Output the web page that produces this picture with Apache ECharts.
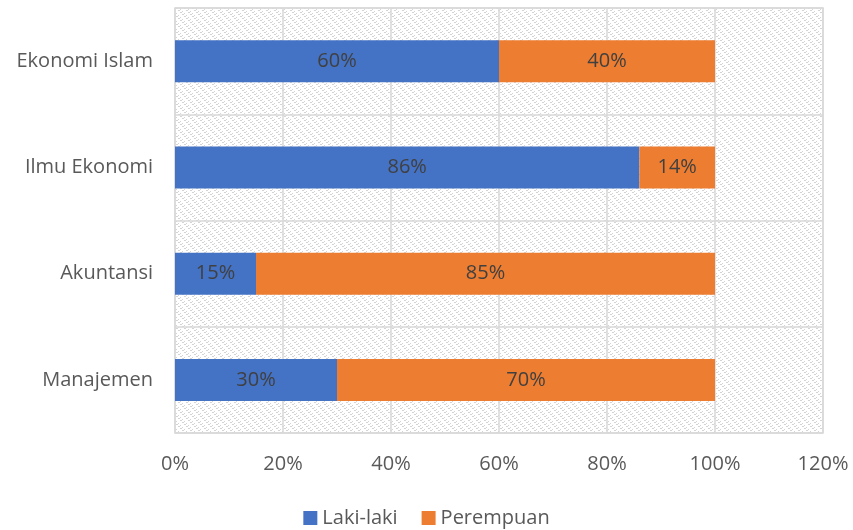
<!DOCTYPE html>
<html>
<head>
<meta charset="utf-8">
<script src="https://cdn.jsdelivr.net/npm/echarts@6/dist/echarts.min.js"></script>
<style>
  html, body { margin: 0; padding: 0; background: #fff; }
  #chart { width: 853px; height: 530px; }
</style>
</head>
<body>
<div id="chart"></div>
<script>
// Study programmes, listed bottom to top as the category axis draws them
const categories = ['Manajemen', 'Akuntansi', 'Ilmu Ekonomi', 'Ekonomi Islam'];
const lakiLaki = [30, 15, 86, 60];
const perempuan = [70, 85, 14, 40];
const xTicks = [0, 20, 40, 60, 80, 100, 120];

// Light diagonal dotted texture for the plot background
function makeTexture() {
  const c = document.createElement('canvas');
  c.width = 8; c.height = 8;
  const ctx = c.getContext('2d');
  ctx.fillStyle = '#ffffff';
  ctx.fillRect(0, 0, 8, 8);
  ctx.fillStyle = '#d4d4d4';
  for (let i = 0; i < 8; i += 2) {
    ctx.fillRect(i, i, 2, 1);
    ctx.fillRect((i + 4) % 8, i + 1, 1, 1);
  }
  return c;
}

const font = '"Open Sans", sans-serif';
const fs = 20;
const chart = echarts.init(document.getElementById('chart'));
chart.setOption({
  animation: false,
  textStyle: { fontFamily: font },
  grid: {
    left: 175, right: 30, top: 8, bottom: 97,
    show: true,
    borderColor: '#d9d9d9', borderWidth: 1.5,
    backgroundColor: { image: makeTexture(), repeat: 'repeat' }
  },
  xAxis: {
    type: 'value',
    min: xTicks[0], max: xTicks[xTicks.length - 1], interval: 20,
    axisLine: { show: false }, axisTick: { show: false },
    axisLabel: { formatter: '{value}%', color: '#595959', fontSize: fs, margin: 21 },
    splitLine: { lineStyle: { color: '#d9d9d9', width: 1.5 } }
  },
  yAxis: {
    type: 'category',
    data: categories,
    axisLine: { show: false }, axisTick: { show: false },
    axisLabel: { color: '#595959', fontSize: fs, margin: 22 },
    splitLine: { show: true, lineStyle: { color: '#d9d9d9', width: 1.5 } }
  },
  legend: {
    bottom: -3, left: 'center',
    itemWidth: 14, itemHeight: 14, itemGap: 24,
    icon: 'rect',
    textStyle: { color: '#595959', fontSize: fs },
    data: ['Laki-laki', 'Perempuan']
  },
  series: [
    {
      name: 'Laki-laki', type: 'bar', stack: 'total',
      data: lakiLaki, barWidth: 42,
      itemStyle: { color: '#4472c4' },
      label: { show: true, formatter: '{c}%', color: '#404040', fontSize: fs }
    },
    {
      name: 'Perempuan', type: 'bar', stack: 'total',
      data: perempuan, barWidth: 42,
      itemStyle: { color: '#ed7d31' },
      label: { show: true, formatter: '{c}%', color: '#404040', fontSize: fs }
    }
  ]
});
</script>
</body>
</html>
